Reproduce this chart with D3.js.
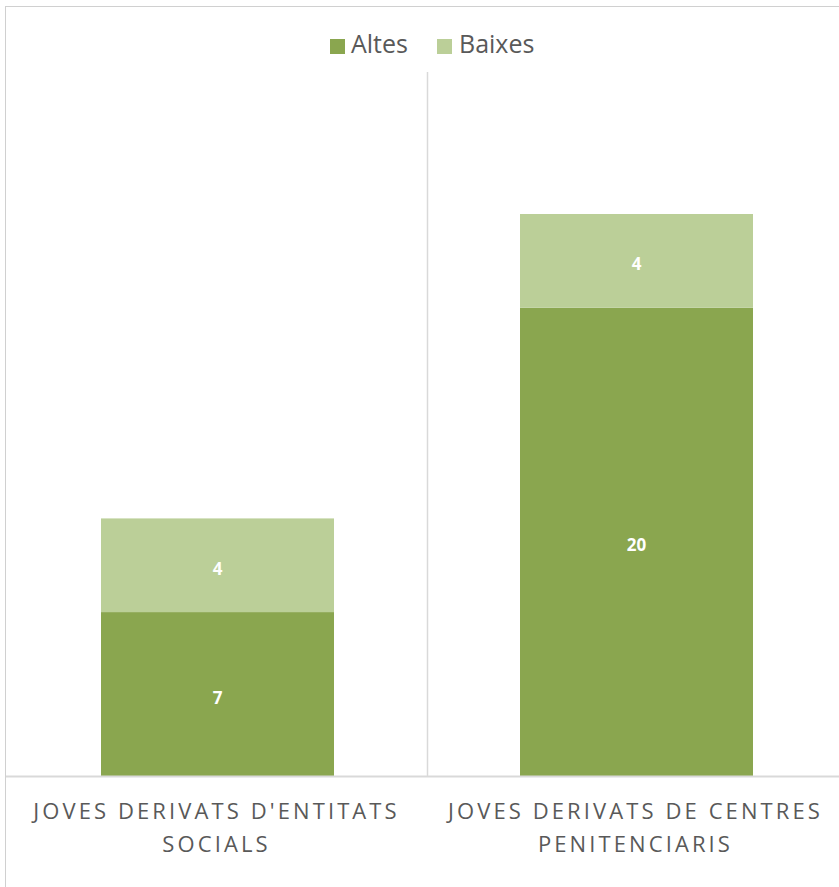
<!DOCTYPE html>
<html><head><meta charset="utf-8">
<script src="https://cdn.jsdelivr.net/npm/d3@7"></script>
<style>body{margin:0;background:#fff}svg{display:block}</style>
</head><body><svg id="c" width="839" height="887"></svg>
<script>
const categories = [["JOVES DERIVATS D'ENTITATS","SOCIALS"],["JOVES DERIVATS DE CENTRES","PENITENCIARIS"]];
const seriesNames = ["Altes","Baixes"];
const altes = [7,20];
const baixes = [4,4];
const colors = ["#8aa64f","#bbcf98"];

(function(){
const svg = d3.select("#c");
const font = "'Open Sans', 'Noto Sans', sans-serif";
svg.append("rect").attr("x",5.5).attr("y",6.5).attr("width",900).attr("height",900)
  .attr("fill","#fff").attr("stroke","#d0d0d0");

const base=776, plotTop=72;
const x = d3.scaleBand().domain([0,1]).range([8,846]);
const y = d3.scaleLinear().domain([0,24]).range([base, 214]);
const bw = 233;

svg.append("line").attr("x1",427.5).attr("x2",427.5).attr("y1",plotTop).attr("y2",base)
  .attr("stroke","#d9d9d9").attr("stroke-width",1.5);

const rows = categories.map((c,i)=>[altes[i], baixes[i]]);
const centers = [0,1].map(i=>x(i)+x.bandwidth()/2);
const stack = d3.stack().keys([0,1])(rows);
stack.forEach((layer,k)=>{
  layer.forEach((seg,i)=>{
    svg.append("rect").attr("x",centers[i]-bw/2).attr("width",bw)
      .attr("y",y(seg[1])).attr("height",y(seg[0])-y(seg[1]))
      .attr("fill",colors[k]);
    svg.append("text").attr("x",centers[i]).attr("y",(y(seg[0])+y(seg[1]))/2)
      .attr("dy","0.56em").attr("text-anchor","middle").attr("fill","#fff")
      .attr("font-family",font).attr("font-weight","bold").attr("font-size",17)
      .text(seg[1]-seg[0]);
  });
});

svg.append("line").attr("x1",6).attr("x2",839).attr("y1",base+0.5).attr("y2",base+0.5)
  .attr("stroke","#d9d9d9").attr("stroke-width",2);

categories.forEach((lines,i)=>{
  lines.forEach((t,j)=>{
    svg.append("text").attr("x",centers[i]-1).attr("y",819+j*33)
      .attr("text-anchor","middle").attr("fill","#595959")
      .attr("font-family",font).attr("font-size",22).attr("letter-spacing","3.1px")
      .text(t);
  });
});

const lg = [{x:330,tx:351},{x:437,tx:459}];
seriesNames.forEach((n,k)=>{
  svg.append("rect").attr("x",lg[k].x).attr("y",39).attr("width",15).attr("height",15).attr("fill",colors[k]);
  svg.append("text").attr("x",lg[k].tx).attr("y",53).attr("fill","#595959")
    .attr("font-family",font).attr("font-size",25).text(n);
});
})();
</script></body></html>
